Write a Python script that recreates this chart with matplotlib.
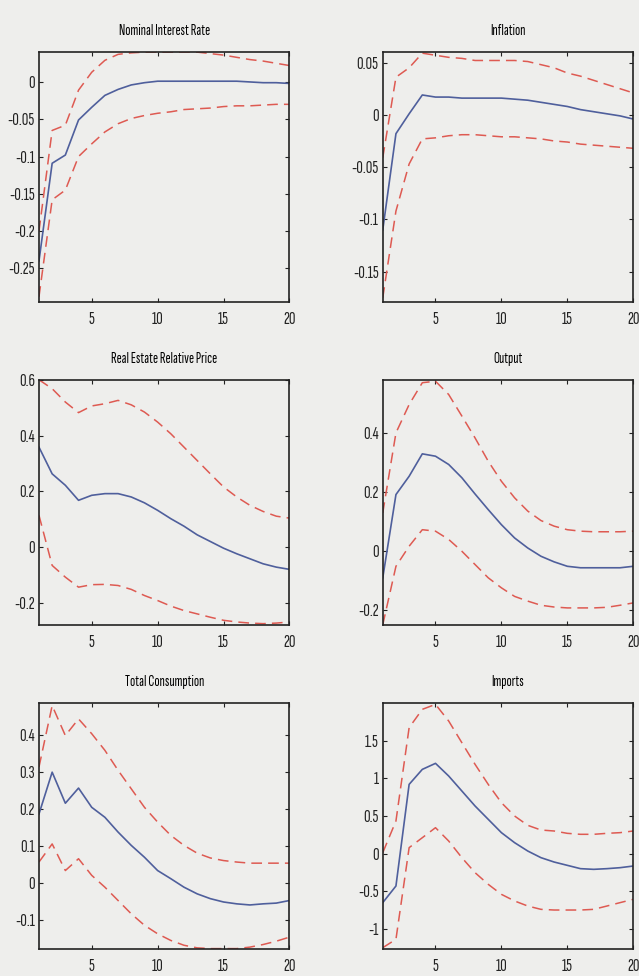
import matplotlib.pyplot as plt

# impulse responses: median (solid blue) and bands (dashed red), horizon 1..20
horizon = list(range(1, 21))

rate_mid = [-0.24, -0.109, -0.098, -0.051, -0.034, -0.018, -0.010, -0.004, -0.001, 0.001,
            0.001, 0.001, 0.001, 0.001, 0.001, 0.001, 0.0, -0.001, -0.001, -0.002]
rate_hi = [-0.20, -0.065, -0.058, -0.011, 0.013, 0.029, 0.037, 0.039, 0.040, 0.040,
           0.040, 0.040, 0.040, 0.038, 0.036, 0.033, 0.030, 0.028, 0.025, 0.022]
rate_lo = [-0.288, -0.158, -0.145, -0.100, -0.083, -0.067, -0.056, -0.049, -0.045, -0.042,
           -0.040, -0.037, -0.036, -0.035, -0.033, -0.032, -0.032, -0.031, -0.030, -0.030]

infl_mid = [-0.11, -0.018, 0.001, 0.019, 0.017, 0.017, 0.016, 0.016, 0.016, 0.016,
            0.015, 0.014, 0.012, 0.010, 0.008, 0.005, 0.003, 0.001, -0.001, -0.004]
infl_hi = [-0.041, 0.036, 0.045, 0.059, 0.057, 0.055, 0.054, 0.052, 0.052, 0.052,
           0.052, 0.051, 0.048, 0.045, 0.040, 0.037, 0.033, 0.029, 0.025, 0.021]
infl_lo = [-0.175, -0.092, -0.047, -0.023, -0.022, -0.020, -0.019, -0.019, -0.020, -0.021,
           -0.021, -0.022, -0.023, -0.025, -0.026, -0.028, -0.029, -0.030, -0.031, -0.032]

house_mid = [0.359, 0.263, 0.222, 0.168, 0.186, 0.192, 0.192, 0.180, 0.159, 0.132,
             0.102, 0.075, 0.044, 0.020, -0.004, -0.024, -0.042, -0.060, -0.072, -0.080]
house_hi = [0.601, 0.569, 0.521, 0.483, 0.507, 0.515, 0.527, 0.511, 0.485, 0.449,
            0.407, 0.359, 0.311, 0.263, 0.216, 0.180, 0.150, 0.128, 0.111, 0.104]
house_lo = [0.114, -0.066, -0.108, -0.144, -0.135, -0.134, -0.138, -0.152, -0.174, -0.192,
            -0.212, -0.228, -0.240, -0.252, -0.263, -0.269, -0.273, -0.275, -0.273, -0.269]

out_mid = [-0.090, 0.192, 0.254, 0.330, 0.322, 0.294, 0.249, 0.194, 0.141, 0.090,
           0.045, 0.011, -0.017, -0.036, -0.051, -0.056, -0.056, -0.056, -0.056, -0.051]
out_hi = [0.13, 0.401, 0.497, 0.571, 0.576, 0.531, 0.458, 0.384, 0.305, 0.237,
          0.181, 0.136, 0.104, 0.085, 0.073, 0.068, 0.066, 0.066, 0.066, 0.068]
out_lo = [-0.249, -0.051, 0.017, 0.073, 0.068, 0.040, 0.0, -0.045, -0.090, -0.124,
          -0.153, -0.169, -0.183, -0.189, -0.192, -0.192, -0.192, -0.190, -0.183, -0.175]

cons_mid = [0.187, 0.300, 0.216, 0.257, 0.205, 0.178, 0.138, 0.102, 0.070, 0.034,
            0.012, -0.011, -0.029, -0.042, -0.051, -0.056, -0.059, -0.056, -0.054, -0.047]
cons_hi = [0.314, 0.480, 0.399, 0.444, 0.404, 0.359, 0.305, 0.255, 0.205, 0.165,
           0.129, 0.102, 0.081, 0.068, 0.061, 0.057, 0.054, 0.054, 0.054, 0.054]
cons_lo = [0.057, 0.106, 0.034, 0.066, 0.021, -0.011, -0.047, -0.083, -0.114, -0.137,
           -0.155, -0.168, -0.175, -0.177, -0.177, -0.177, -0.173, -0.166, -0.157, -0.146]

imp_mid = [-0.650, -0.429, 0.920, 1.119, 1.199, 1.031, 0.832, 0.633, 0.456, 0.279,
           0.146, 0.035, -0.053, -0.111, -0.155, -0.199, -0.208, -0.199, -0.186, -0.164]
imp_hi = [0.013, 0.434, 1.673, 1.916, 1.982, 1.761, 1.473, 1.186, 0.920, 0.677,
          0.500, 0.376, 0.314, 0.301, 0.270, 0.257, 0.257, 0.270, 0.279, 0.301]
imp_lo = [-1.248, -1.137, 0.080, 0.212, 0.345, 0.168, -0.053, -0.252, -0.407, -0.540,
          -0.628, -0.695, -0.739, -0.748, -0.748, -0.748, -0.739, -0.695, -0.650, -0.606]

titles = ['Nominal Interest Rate', 'Inflation', 'Real Estate Relative Price',
          'Output', 'Total Consumption', 'Imports']
panels = [(rate_mid, rate_hi, rate_lo), (infl_mid, infl_hi, infl_lo),
          (house_mid, house_hi, house_lo), (out_mid, out_hi, out_lo),
          (cons_mid, cons_hi, cons_lo), (imp_mid, imp_hi, imp_lo)]
ylims = [(-0.295, 0.04), (-0.179, 0.06), (-0.28, 0.6),
         (-0.25, 0.58), (-0.178, 0.487), (-1.265, 2.0)]
yticks = [[-0.25, -0.2, -0.15, -0.1, -0.05, 0],
          [-0.15, -0.1, -0.05, 0, 0.05],
          [-0.2, 0, 0.2, 0.4, 0.6],
          [-0.2, 0, 0.2, 0.4],
          [-0.1, 0, 0.1, 0.2, 0.3, 0.4],
          [-1, -0.5, 0, 0.5, 1, 1.5]]

# narrow font like the MATLAB export
plt.rcParams['font.family'] = ['Sofia Sans Extra Condensed', 'DejaVu Sans']

bg = '#eeeeec'
fig = plt.figure(figsize=(6.39, 9.76), dpi=100, facecolor=bg)

lefts = [0.061, 0.599]
rows = [(0.6906, 0.256), (0.3596, 0.251), (0.0277, 0.252)]

for i, (title, (mid, hi, lo)) in enumerate(zip(titles, panels)):
    r, c = divmod(i, 2)
    ax = fig.add_axes([lefts[c], rows[r][0], 0.392, rows[r][1]], facecolor=bg)
    ax.plot(horizon, mid, color='#4f5f9c', lw=1.2)
    ax.plot(horizon, hi, color='#de5a52', lw=1.1, dashes=(7, 4))
    ax.plot(horizon, lo, color='#de5a52', lw=1.1, dashes=(7, 4))
    ax.set_xlim(1, 20)
    ax.set_ylim(*ylims[i])
    ax.set_xticks([5, 10, 15, 20])
    ax.set_yticks(yticks[i])
    ax.set_yticklabels(['%g' % v for v in yticks[i]])
    ax.tick_params(direction='in', top=True, right=True, length=3,
                   labelsize=13, pad=3, colors='#222222')
    ax.tick_params(axis='x', pad=7)
    for sp in ax.spines.values():
        sp.set_color('#222222')
        sp.set_linewidth(1.2)
    ax.set_title(title, fontsize=11, pad=12)

fig.savefig('out.png', dpi=100, facecolor=bg)
